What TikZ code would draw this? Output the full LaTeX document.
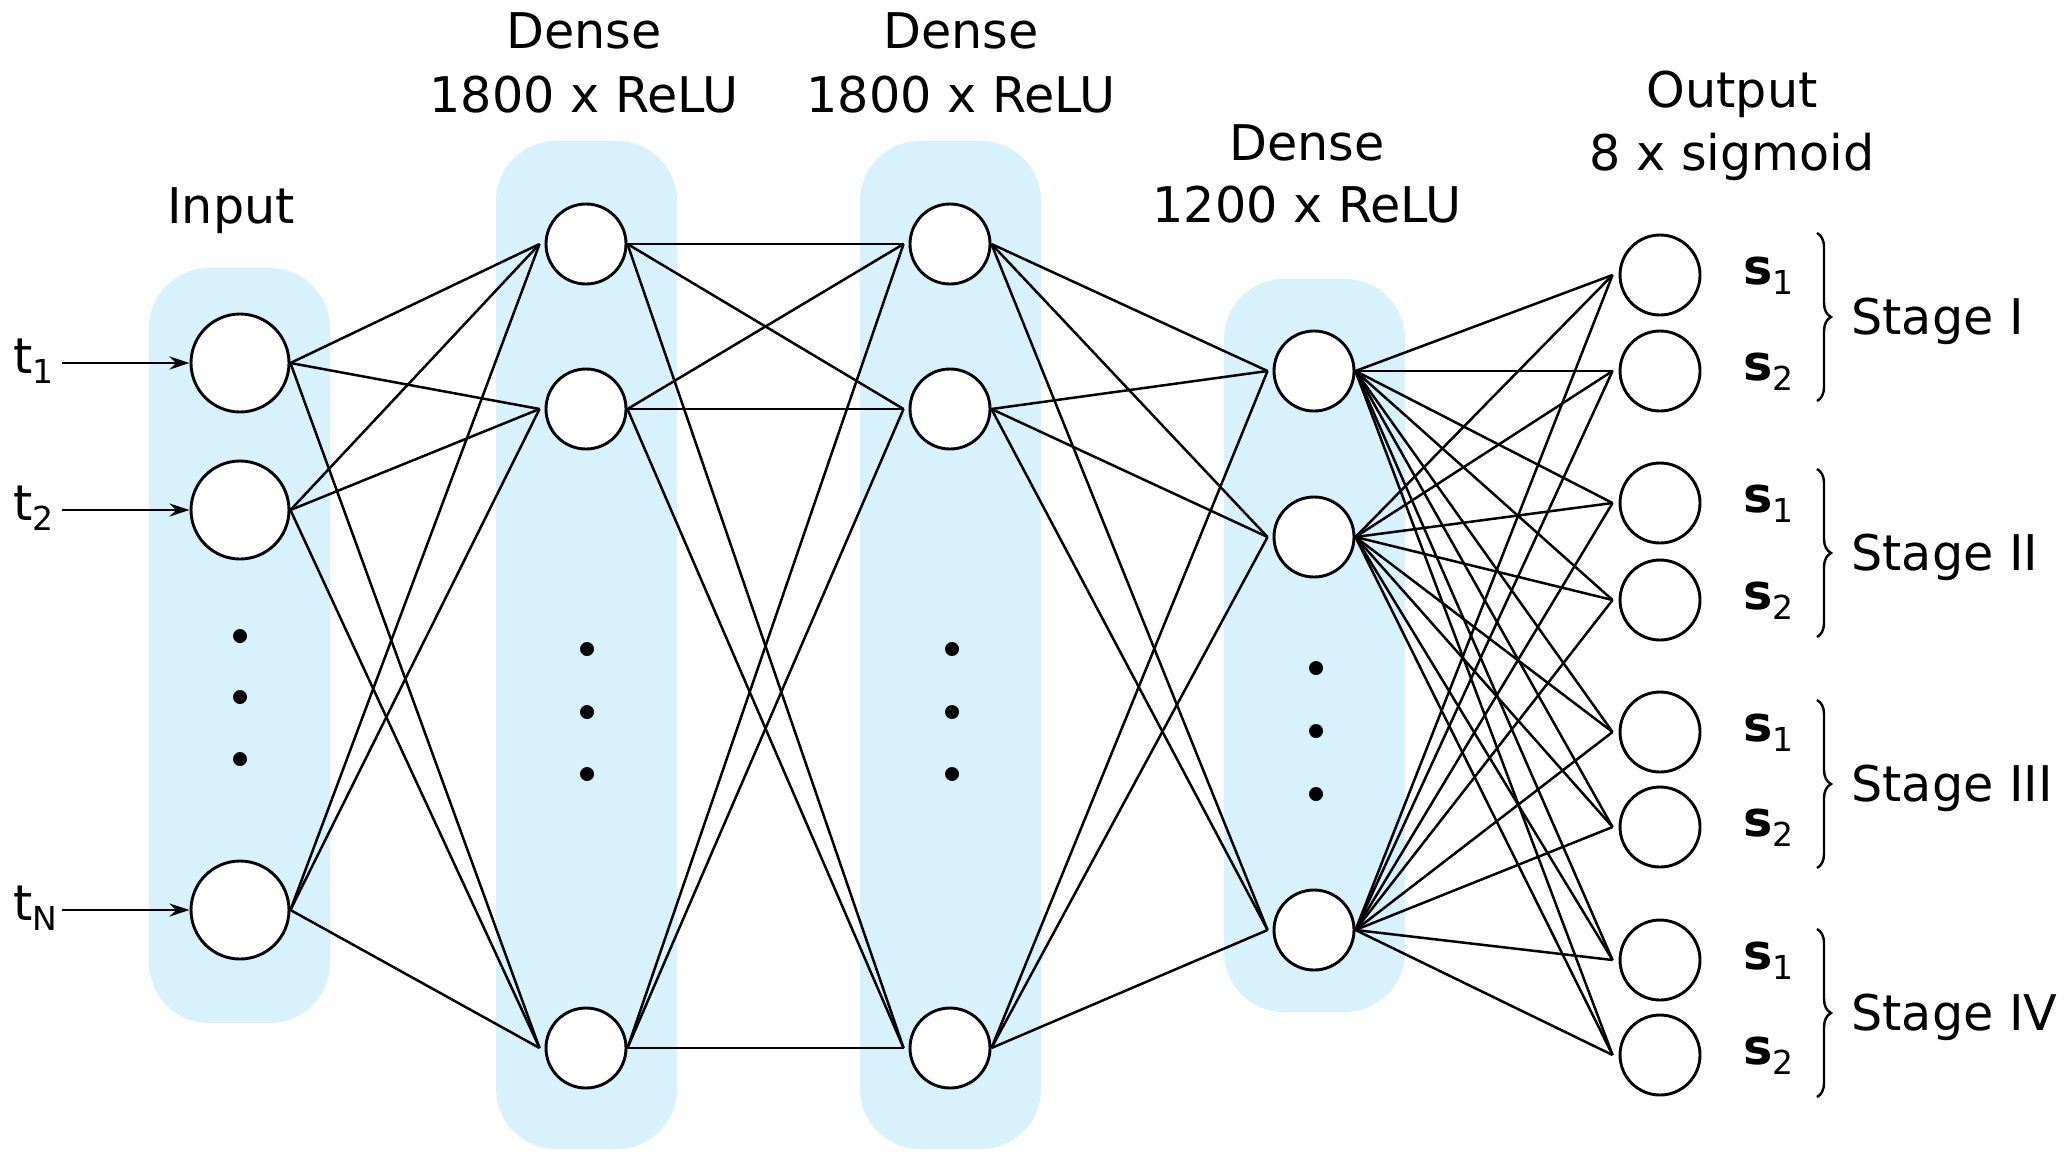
\documentclass[tikz,border=0pt]{standalone}
\usepackage{fontspec}
\setmainfont{DejaVu Sans}
\usetikzlibrary{arrows.meta,decorations.pathreplacing}
\definecolor{colbg}{HTML}{D8F2FD}
\newcommand\subtxt[1]{\raisebox{-5pt}{\fontsize{16.5}{16.5}\selectfont #1}}
\begin{document}
\begin{tikzpicture}[x=0.5pt,y=-0.5pt,
  neuron/.style={circle,draw,line width=1.45pt,fill=white,minimum size=40pt,inner sep=0pt},
  bigneuron/.style={neuron,minimum size=49pt},
  col/.style={fill=colbg,rounded corners=30pt},
  conn/.style={line width=1.25pt},
  dotn/.style={circle,fill=black,minimum size=7pt,inner sep=0pt},
  lbl/.style={font=\fontsize{24.6}{28}\selectfont,inner sep=0pt,anchor=base},
  lblw/.style={lbl,anchor=base west},
  brc/.style={line width=1.2pt,decorate,decoration={brace,amplitude=7pt}},
  arr/.style={conn,-{Stealth[length=10pt,width=6.5pt]}}
]
\useasboundingbox (0,0) rectangle (2070,1162);
% columns
\fill[col] (149,268) rectangle (330,1023);
\fill[col] (496,141) rectangle (677,1149);
\fill[col] (860,141) rectangle (1041,1149);
\fill[col] (1224,279) rectangle (1405,1012);
% neurons
\node[bigneuron] (i1) at (240,363) {};
\node[bigneuron] (i2) at (240,510) {};
\node[bigneuron] (i3) at (240,910) {};
\node[neuron] (a1) at (586,244) {};
\node[neuron] (a2) at (586,409) {};
\node[neuron] (a3) at (586,1048) {};
\node[neuron] (b1) at (950,244) {};
\node[neuron] (b2) at (950,409) {};
\node[neuron] (b3) at (950,1048) {};
\node[neuron] (c1) at (1314,371) {};
\node[neuron] (c2) at (1314,537) {};
\node[neuron] (c3) at (1314,930) {};
\foreach \n/\y in {1/275,2/371,3/503,4/600,5/732,6/827,7/960,8/1055}
  \node[neuron] (o\n) at (1660,\y) {};
% dots
\foreach \y [count=\k] in {636,697,759} \node[dotn] (di\k) at (240,\y) {};
\foreach \y [count=\k] in {649,712,774} \node[dotn] (da\k) at (587,\y) {};
\foreach \y [count=\k] in {649,712,774} \node[dotn] (db\k) at (952,\y) {};
\foreach \y [count=\k] in {668,731,794} \node[dotn] (dc\k) at (1316,\y) {};
% connections
\foreach \s in {i1,i2,i3} \foreach \t in {a1,a2,a3}
  \draw[conn] (\s.east) -- ([xshift=-2.5pt]\t.west);
\foreach \s in {a1,a2,a3} \foreach \t in {b1,b2,b3}
  \draw[conn] (\s.east) -- ([xshift=-2.5pt]\t.west);
\foreach \s in {b1,b2,b3} \foreach \t in {c1,c2,c3}
  \draw[conn] (\s.east) -- ([xshift=-2.5pt]\t.west);
\foreach \s in {c1,c2,c3} \foreach \t in {o1,o2,o3,o4,o5,o6,o7,o8}
  \draw[conn] (\s.east) -- ([xshift=-3pt]\t.west);
% inputs
\coordinate (s1) at (62,363);
\coordinate (s2) at (62,510);
\coordinate (s3) at (62,910);
\draw[arr] (s1) -- (i1.west);
\draw[arr] (s2) -- (i2.west);
\draw[arr] (s3) -- (i3.west);
\node[lblw] (t1) at (13,373) {t\subtxt{1}};
\node[lblw] (t2) at (13,520) {t\subtxt{2}};
\node[lblw] (t3) at (13,920) {t\subtxt{N}};
% titles
\node[lbl] (h0) at (231,223) {Input};
\node[lbl] (h1a) at (584,48) {Dense};
\node[lbl] (h1b) at (584,112) {1800 x ReLU};
\node[lbl] (h2a) at (961,48) {Dense};
\node[lbl] (h2b) at (961,112) {1800 x ReLU};
\node[lbl] (h3a) at (1307,160) {Dense};
\node[lbl] (h3b) at (1307,222) {1200 x ReLU};
\node[lbl] (h4a) at (1732,107) {Output};
\node[lbl] (h4b) at (1732,170) {8 x sigmoid};
% output labels
\foreach \y [count=\k] in {275,371,503,600,732,827,960,1055}{
  \pgfmathtruncatemacro{\sn}{2-mod(\k,2)}
  \node[lblw] (sl\k) at (1743,\y+9) {\textbf{s}\subtxt{\sn}};
}
% braces and stages
\foreach \c/\txt [count=\k] in {317/Stage I,553/Stage II,784/Stage III,1013/Stage IV}{
  \coordinate (bt\k) at (1817,\c-84);
  \coordinate (bb\k) at (1817,\c+84);
  \draw[brc] (bt\k) -- (bb\k);
  \node[lblw] (st\k) at (1851,\c+17) {\txt};
}
\end{tikzpicture}
\end{document}
